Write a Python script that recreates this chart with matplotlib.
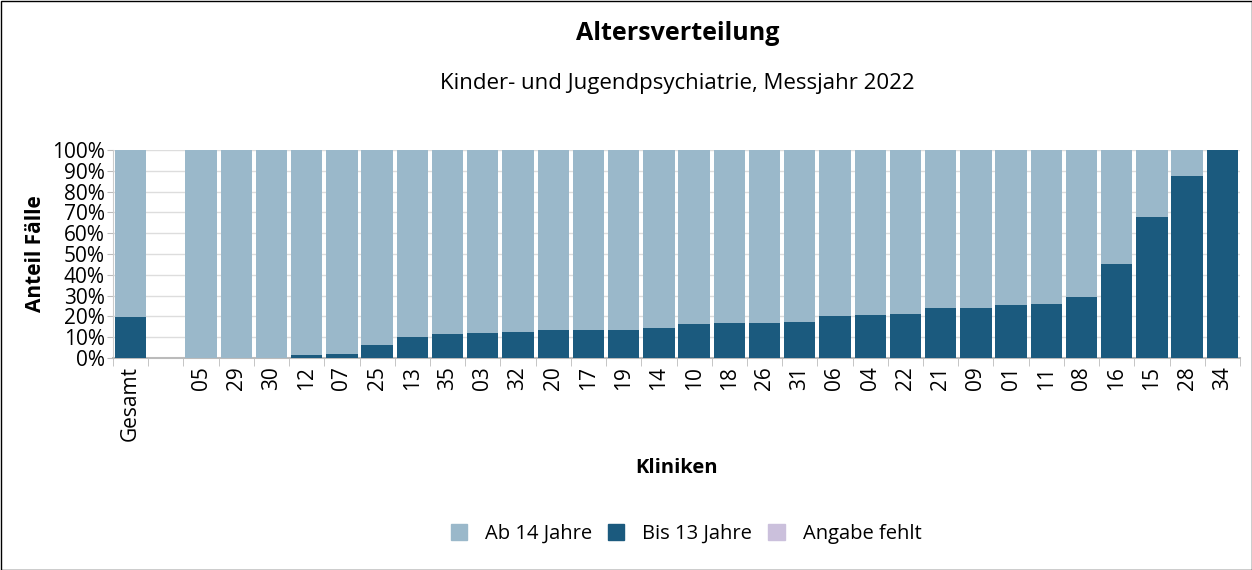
import matplotlib.pyplot as plt
import numpy as np
from matplotlib.patches import Patch

plt.rcParams['font.family'] = ['Open Sans', 'DejaVu Sans']

kliniken = ['Gesamt', '', '05', '29', '30', '12', '07', '25', '13', '35', '03', '32',
            '20', '17', '19', '14', '10', '18', '26', '31', '06', '04', '22', '21',
            '09', '01', '11', '08', '16', '15', '28', '34']
bis13 = [19.8, 0, 0, 0, 0, 1.6, 2.1, 6.1, 10.0, 11.6, 12.1, 12.4,
         13.3, 13.5, 13.7, 14.3, 16.2, 16.6, 16.7, 17.5, 20.1, 20.9, 21.2, 24.0,
         24.0, 25.4, 25.9, 29.1, 45.2, 67.8, 87.6, 100.0]
fehlt = [0] * len(kliniken)
ab14 = [0 if k == '' else 100 - b - f for k, b, f in zip(kliniken, bis13, fehlt)]

c_ab14 = '#9ab8ca'
c_bis13 = '#1b5a7e'
c_fehlt = '#cbc0dc'

fig = plt.figure(figsize=(12.52, 5.70), dpi=100)
ax = fig.add_axes([113/1252, 1 - 358/570, 1127/1252, 208/570])

x = np.arange(len(kliniken))
ax.bar(x, bis13, width=0.89, color=c_bis13, zorder=3)
ax.bar(x, fehlt, bottom=bis13, width=0.89, color=c_fehlt, zorder=3)
ax.bar(x, ab14, bottom=np.array(bis13) + np.array(fehlt), width=0.89, color=c_ab14, zorder=3)

ax.set_xlim(-0.5, len(kliniken) - 0.5)
ax.set_ylim(0, 100)
ax.set_yticks(range(0, 101, 10))
ax.set_yticklabels([f'{v}%' for v in range(0, 101, 10)], fontsize=15)
ax.yaxis.grid(True, color='#dddddd', linewidth=1, zorder=0)
ax.set_xticks(x)
ax.set_xticklabels(kliniken, rotation=90, fontsize=15)
ax.set_xticks(np.arange(-0.5, len(kliniken)), minor=True)
ax.tick_params(axis='x', which='major', length=0, pad=6)
ax.tick_params(axis='x', which='minor', length=6, color='#bbbbbb')
ax.tick_params(axis='y', length=4, color='#bbbbbb', pad=2)
for s in ['top', 'right']:
    ax.spines[s].set_visible(False)
ax.spines['left'].set_color('#cccccc')
ax.spines['bottom'].set_color('#bbbbbb')
ax.spines['bottom'].set_linewidth(1.5)

ax.set_ylabel('Anteil Fälle', fontsize=15, fontweight='bold', labelpad=4)
ax.set_xlabel('Kliniken', fontsize=14.5, fontweight='bold', labelpad=12)

fig.text(0.541, 1 - 33/570, 'Altersverteilung', ha='center', va='center',
         fontsize=18, fontweight='bold')
fig.text(0.541, 1 - 83/570, 'Kinder- und Jugendpsychiatrie, Messjahr 2022',
         ha='center', va='center', fontsize=16)

handles = [Patch(color=c_ab14, label='Ab 14 Jahre'),
           Patch(color=c_bis13, label='Bis 13 Jahre'),
           Patch(color=c_fehlt, label='Angabe fehlt')]
fig.legend(handles=handles, loc='center', bbox_to_anchor=(0.548, 1 - 534/570), ncol=3,
           frameon=False, fontsize=14.5, handlelength=0.8, handleheight=0.8,
           columnspacing=0.8, handletextpad=0.9)

fig.patches.append(plt.Rectangle((0.5/1252, 0.5/570), 1 - 1/1252, 1 - 1/570,
                                 transform=fig.transFigure, fill=False,
                                 edgecolor='black', linewidth=1))

fig.savefig('out.png', dpi=100)
